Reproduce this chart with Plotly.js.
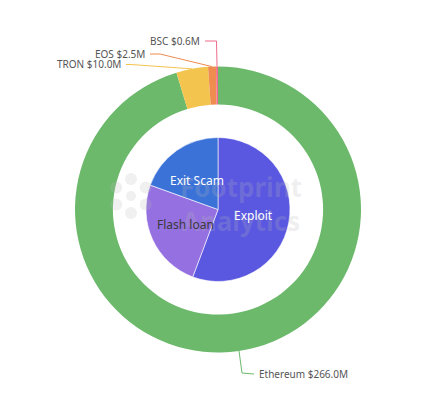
<!DOCTYPE html>
<html>
<head>
<meta charset="utf-8">
<script src="https://cdn.plot.ly/plotly-3.0.1.min.js"></script>
<style>html,body{margin:0;padding:0;background:#fff;}#chart{width:442px;height:397px;}</style>
</head>
<body>
<div id="chart"></div>
<script>
// ---- data ----
const chainLabels = ['Ethereum', 'TRON', 'EOS', 'BSC'];
const chainValues = [266.0, 10.0, 2.5, 0.6];
const typeLabels = ['Exploit', 'Flash loan', 'Exit Scam'];
const typeValues = [55.7, 24.8, 19.5];

// ---- styles ----
const chainColors = ['#6cb96c', '#f3c54f', '#ef8c4f', '#f06a8c'];
const typeColors = ['#5a57e0', '#9470e0', '#3b72d8'];
const typeTextColors = ['#ffffff', '#3a3a3a', '#ffffff'];

const W = 442, H = 397;
const cx = 218, cy = 209.5, R = 143, r0 = 72;
const px = x => x / W, py = y => 1 - y / H;

// label leader geometry: [elbowX, elbowY], [endX, endY]
const labelGeom = {
  'Ethereum': {elbow: [242, 373], end: [254, 374], anchor: 'left'},
  'TRON': {elbow: [131, 64.5], end: [126, 64.5], anchor: 'right'},
  'EOS': {elbow: [160, 54], end: [150, 54], anchor: 'right'},
  'BSC': {elbow: [216.5, 41], end: [205, 41], anchor: 'right'}
};

const shapes = [], annotations = [];

// faint watermark logo (decoration)
const logoC = [131, 196];
const wm = 'rgba(185,185,185,0.22)';
for (let k = 0; k < 6; k++) {
  const a = k * Math.PI / 3 + Math.PI / 2;
  const ex = logoC[0] + 17 * Math.cos(a), ey = logoC[1] + 17 * Math.sin(a);
  const rx = 6, ry = 6;
  shapes.push({type: 'circle', xref: 'paper', yref: 'paper', layer: 'above',
    x0: px(ex - rx), x1: px(ex + rx), y0: py(ey + ry), y1: py(ey - ry),
    fillcolor: wm, line: {width: 0}});
}
shapes.push({type: 'circle', xref: 'paper', yref: 'paper', layer: 'above',
  x0: px(logoC[0] - 5), x1: px(logoC[0] + 5), y0: py(logoC[1] + 5), y1: py(logoC[1] - 5),
  fillcolor: wm, line: {width: 0}});

const total = chainValues.reduce((a, b) => a + b, 0);
let acc = 0;
chainValues.forEach((v, i) => {
  const mid = (acc + v / 2) / total * 2 * Math.PI;
  acc += v;
  const sx = cx + R * Math.sin(mid), sy = cy - R * Math.cos(mid);
  const g = labelGeom[chainLabels[i]];
  shapes.push({
    type: 'path', xref: 'paper', yref: 'paper',
    path: `M${px(sx)},${py(sy)} L${px(g.elbow[0])},${py(g.elbow[1])} L${px(g.end[0])},${py(g.end[1])}`,
    line: {color: chainColors[i], width: 1}
  });
  annotations.push({
    xref: 'paper', yref: 'paper',
    x: px(g.end[0] + (g.anchor === 'left' ? 3 : -3)), y: py(g.end[1]),
    xanchor: g.anchor, yanchor: 'middle', showarrow: false,
    text: chainLabels[i] + ' $' + v.toFixed(1) + 'M',
    font: {family: 'Noto Sans, sans-serif', size: 10, color: '#555'}
  });
});

// watermark text (drawn before slice labels so labels sit on top)
annotations.unshift({
  xref: 'paper', yref: 'paper', x: px(241), y: py(204), xanchor: 'center', yanchor: 'middle',
  showarrow: false, text: '<b>Footprint<br>Analytics</b>',
  font: {family: 'Noto Sans, sans-serif', size: 26, color: 'rgba(185,185,185,0.22)'}
});

const tTotal = typeValues.reduce((a, b) => a + b, 0);
acc = 0;
typeValues.forEach((v, i) => {
  const mid = (acc + v / 2) / tTotal * 2 * Math.PI;
  acc += v;
  annotations.push({
    xref: 'paper', yref: 'paper',
    x: px(cx + r0 / 2 * Math.sin(mid)), y: py(cy - r0 / 2 * Math.cos(mid)),
    xanchor: 'center', yanchor: 'middle', showarrow: false,
    text: typeLabels[i],
    font: {family: 'Noto Sans, sans-serif', size: 12, color: typeTextColors[i]}
  });
});

const traces = [
  {
    type: 'pie', labels: chainLabels, values: chainValues, hole: 0.735,
    sort: false, direction: 'clockwise', rotation: 0,
    marker: {colors: chainColors, line: {width: 0}},
    textinfo: 'none', hoverinfo: 'label+value', showlegend: false,
    domain: {x: [px(cx - R), px(cx + R)], y: [py(cy + R), py(cy - R)]}
  },
  {
    type: 'pie', labels: typeLabels, values: typeValues,
    sort: false, direction: 'clockwise', rotation: 0,
    marker: {colors: typeColors, line: {width: 0.6, color: '#ffffff'}},
    textinfo: 'none', hoverinfo: 'label+percent', showlegend: false,
    domain: {x: [px(cx - r0), px(cx + r0)], y: [py(cy + r0), py(cy - r0)]}
  }
];

Plotly.newPlot('chart', traces, {
  width: W, height: H, margin: {l: 0, r: 0, t: 0, b: 0},
  paper_bgcolor: '#ffffff', showlegend: false,
  shapes: shapes, annotations: annotations
}, {staticPlot: true});
</script>
</body>
</html>
